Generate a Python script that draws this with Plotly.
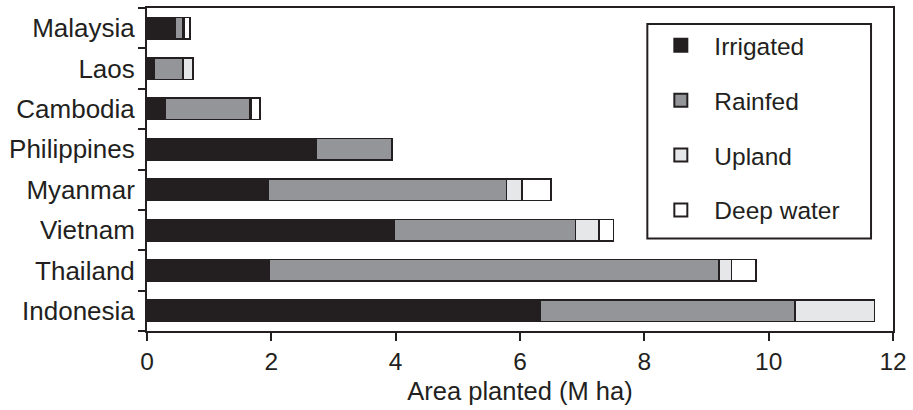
import plotly.graph_objects as go

countries = ["Indonesia", "Thailand", "Vietnam", "Myanmar", "Philippines", "Cambodia", "Laos", "Malaysia"]
irrigated = [6.32, 1.96, 3.98, 1.95, 2.73, 0.30, 0.11, 0.46]
rainfed = [4.10, 7.24, 2.91, 3.83, 1.21, 1.35, 0.47, 0.12]
upland = [1.28, 0.20, 0.38, 0.25, None, 0.02, 0.16, 0.02]
deep_water = [None, 0.40, 0.23, 0.47, None, 0.15, None, 0.09]

series_names = ["Irrigated", "Rainfed", "Upland", "Deep water"]
series_values = [irrigated, rainfed, upland, deep_water]
series_colors = ["#231f20", "#939598", "#e6e7e8", "#ffffff"]

x_ticks = [0, 2, 4, 6, 8, 10, 12]
x_title = "Area planted (M ha)"

ink = "#231f20"
font_family = "Liberation Sans, Arial, sans-serif"

fig = go.Figure()
for name, vals, col in zip(series_names, series_values, series_colors):
    fig.add_trace(go.Bar(
        y=countries, x=vals, name=name, orientation="h",
        marker=dict(color=col, line=dict(color=ink, width=1.5)),
        showlegend=False,
    ))
# legend entries (square swatches)
for name, col in zip(series_names, series_colors):
    fig.add_trace(go.Scatter(
        x=[None], y=[None], mode="markers", name=name, legendgroup=name,
        marker=dict(symbol="square", size=13, color=col, line=dict(color=ink, width=2)),
        showlegend=True, hoverinfo="skip",
    ))

W, H = 913, 410
L, R, T, B = 147, 19, 6, 79
pw, ph = W - L - R, H - T - B

def px_x(p):
    return (p - L) / pw

def px_y(p):
    return (H - B - p) / ph

fig.update_layout(
    width=W, height=H,
    margin=dict(l=L, r=R, t=T, b=B),
    barmode="stack",
    bargap=0.465,
    plot_bgcolor="white",
    paper_bgcolor="white",
    font=dict(family=font_family, color=ink, size=24),
    showlegend=True,
    legend=dict(
        x=px_x(648), y=px_y(21), xanchor="left", yanchor="top",
        bgcolor="rgba(0,0,0,0)", borderwidth=0,
        font=dict(size=24.5, family=font_family, color=ink),
        traceorder="grouped", tracegroupgap=20,
        itemwidth=57, itemsizing="trace",
    ),
    xaxis=dict(
        range=[0, 12], tickvals=x_ticks,
        showgrid=False, zeroline=False,
        showline=True, linecolor=ink, linewidth=2, mirror=True,
        ticks="outside", ticklen=8, tickwidth=2, tickcolor=ink,
        tickfont=dict(size=24.5),
        title=dict(text=x_title, font=dict(size=25.5), standoff=8),
    ),
    yaxis=dict(
        categoryorder="array", categoryarray=countries,
        showgrid=False, zeroline=False,
        showline=True, linecolor=ink, linewidth=2, mirror=True,
        ticks="outside", tickson="boundaries", ticklen=7, tickwidth=2, tickcolor=ink,
        tickfont=dict(size=26), ticklabelstandoff=5,
    ),
    shapes=[dict(
        type="rect", xref="paper", yref="paper",
        x0=px_x(648), x1=px_x(872), y0=px_y(238), y1=px_y(22),
        line=dict(color=ink, width=2), fillcolor="rgba(0,0,0,0)", layer="above",
    )],
)

fig.write_html("out.html")
